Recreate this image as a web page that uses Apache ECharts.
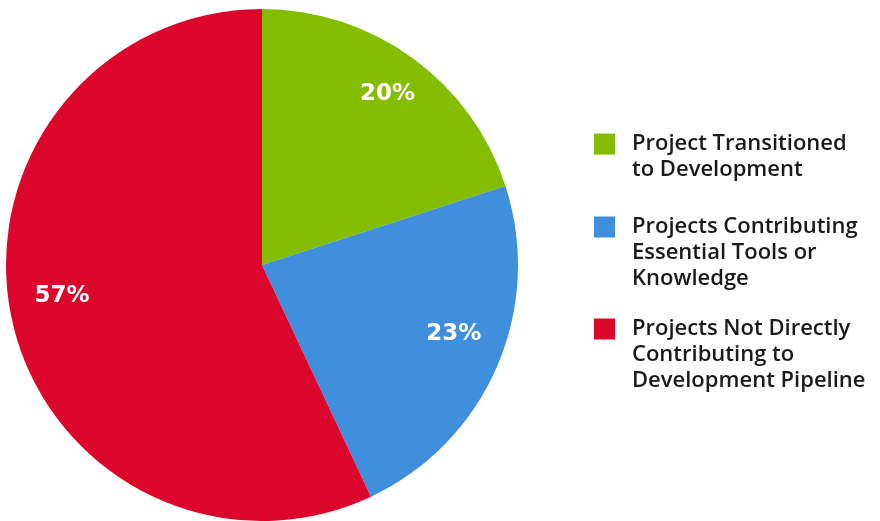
<!DOCTYPE html>
<html>
<head>
<meta charset="utf-8">
<script src="https://cdn.jsdelivr.net/npm/echarts@6/dist/echarts.min.js"></script>
<style>
html,body{margin:0;padding:0;background:#ffffff;}
#chart{width:880px;height:521px;}
</style>
</head>
<body>
<div id="chart"></div>
<script>
var categories = [
  'Project Transitioned to Development',
  'Projects Contributing Essential Tools or Knowledge',
  'Projects Not Directly Contributing to Development Pipeline'
];
var legendLines = [
  ['Project Transitioned', 'to Development'],
  ['Projects Contributing', 'Essential Tools or', 'Knowledge'],
  ['Projects Not Directly', 'Contributing to', 'Development Pipeline']
];
var values = [20, 23, 57];
var colors = ['#84bc00', '#3f8fdd', '#dc062d'];

// layout (not data)
var LH = 26;
var legendIconCenters = [143.6, 226.5, 328.5];
var labelOffsets = [[2, -1], [-1, -14], [5, -15]];

var pieData = categories.map(function (c, i) {
  return { name: c, value: values[i], itemStyle: { color: colors[i] } };
});

var legends = categories.map(function (c, i) {
  var n = legendLines[i].length;
  var pre = '';
  for (var k = 0; k < n - 1; k++) pre += '\n';
  return {
    orient: 'vertical',
    left: 594,
    top: legendIconCenters[i] - (2 * n - 1) * LH / 2,
    padding: 0,
    itemWidth: 21,
    itemHeight: 21,
    icon: 'rect',
    selectedMode: false,
    data: [c],
    formatter: function () { return pre + legendLines[i].join('\n'); },
    textStyle: {
      fontFamily: 'Open Sans',
      fontWeight: 600,
      fontSize: 22,
      lineHeight: LH,
      color: '#1a1a1a',
      padding: [1, 0, 0, 12]
    }
  };
});

var chart = echarts.init(document.getElementById('chart'), null, { renderer: 'canvas' });
chart.setOption({
  animation: false,
  backgroundColor: '#ffffff',
  legend: legends,
  series: [
    {
      type: 'pie',
      center: [262, 265],
      radius: [0, 256],
      startAngle: 90,
      clockwise: true,
      silent: true,
      label: { show: false },
      labelLine: { show: false },
      itemStyle: { borderWidth: 0 },
      data: pieData
    },
    {
      type: 'pie',
      center: [262, 265],
      radius: [158, 256],
      startAngle: 90,
      clockwise: true,
      silent: true,
      itemStyle: { color: 'rgba(0,0,0,0)', borderWidth: 0 },
      label: {
        show: true,
        position: 'inside',
        formatter: function (p) { return p.value + '%'; },
        color: '#ffffff',
        fontFamily: 'DejaVu Sans',
        fontWeight: 'bold',
        fontSize: 23
      },
      labelLine: { show: false },
      data: categories.map(function (c, i) {
        return { name: c, value: values[i], label: { offset: labelOffsets[i] } };
      })
    }
  ]
});
</script>
</body>
</html>
